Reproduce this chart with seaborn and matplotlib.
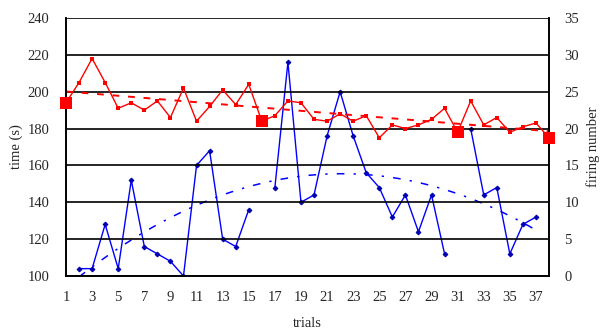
import matplotlib
matplotlib.use("Agg")
import matplotlib.pyplot as plt
import numpy as np
import pandas as pd
import seaborn as sns

# Data
trials = list(range(1, 39))
time_s = [194, 205, 218, 205, 191, 194, 190, 195, 186, 202,
          184, 192, 201, 193, 204, 184, 187, 195, 194, 185,
          184, 188, 184, 187, 175, 182, 180, 182, 185, 191,
          178, 195, 182, 186, 178, 181, 183, 175]
big_trials = [1, 16, 31, 38]

fire_trials = [2, 3, 4, 5, 6, 7, 8, 9, 10, 11, 12, 13, 14, 15,
               17, 18, 19, 20, 21, 22, 23, 24, 25, 26, 27, 28, 29, 30,
               32, 33, 34, 35, 36, 37]
firing = [1, 1, 7, 1, 13, 4, 3, 2, 0, 15, 17, 5, 4, 9,
          12, 29, 10, 11, 19, 25, 19, 14, 12, 8, 11, 6, 11, 3,
          20, 11, 12, 3, 7, 8]
fire_block = [1] * 14 + [2] * 14 + [3] * 6

x_ticks = list(range(1, 39))
x_labels = [str(t) if t % 2 == 1 else "" for t in x_ticks]

df_time = pd.DataFrame({"trial": trials, "time": time_s})
df_big = df_time[df_time["trial"].isin(big_trials)]
df_fire = pd.DataFrame({"trial": fire_trials, "firing": firing, "block": fire_block})

sns.set_style("white")
plt.rcParams["font.family"] = ["Liberation Serif", "DejaVu Serif"]
plt.rcParams["font.size"] = 10.5

fig = plt.figure(figsize=(6.13, 3.36), dpi=100)
ax = fig.add_axes([66 / 613, 60 / 336, 483 / 613, 258 / 336])
ax2 = ax.twinx()

# firing number (right axis)
sns.lineplot(data=df_fire, x="trial", y="firing", units="block", estimator=None,
             color="#0000ff", lw=1, marker="D", markersize=2.4,
             markeredgecolor="#0000b0", markerfacecolor="#0000b0", ax=ax2)
p2 = np.polyfit(fire_trials, firing, 2)
xt = np.linspace(min(fire_trials), max(fire_trials), 200)
ax2.plot(xt, np.polyval(p2, xt), color="#0000ff", lw=1.1, dashes=(5, 6, 1.5, 6))

# time (left axis)
ax.set_zorder(ax2.get_zorder() + 1)
ax.patch.set_visible(False)
sns.lineplot(data=df_time, x="trial", y="time", color="#ff0000", lw=1,
             marker="s", markersize=3.2, markeredgewidth=0, ax=ax)
sns.scatterplot(data=df_big, x="trial", y="time", color="#ff0000", marker="s",
                s=85, linewidth=0, ax=ax, zorder=4)
for c in ax.collections:
    c.set_clip_on(False)
p1 = np.polyfit(trials, time_s, 1)
xr = np.array([trials[0], trials[-1]])
ax.plot(xr, np.polyval(p1, xr), color="#ff0000", lw=1.4, dashes=(3.5, 4.5))

ax.set_xlim(1, 38)
ax.set_ylim(100, 240)
ax2.set_ylim(0, 35)
ax.set_yticks(range(100, 241, 20))
ax2.set_yticks(range(0, 36, 5))
ax.set_xticks(x_ticks)
ax.set_xticklabels(x_labels)
ax.grid(axis="y", color="black", lw=1.2)
ax2.grid(False)

ax.tick_params(axis="x", direction="inout", length=8, width=1, color="black", pad=7)
ax.tick_params(axis="y", length=0, pad=12)
ax2.tick_params(axis="y", length=0, pad=11)

for a in (ax, ax2):
    for s in a.spines.values():
        s.set_color("black")
        s.set_linewidth(1.2)
    a.spines["top"].set_visible(False)

ax.set_xlabel("trials", labelpad=9)
ax.set_ylabel("time (s)", labelpad=3)
ax2.set_ylabel("firing number", labelpad=5)

fig.savefig("out.png", dpi=100)
